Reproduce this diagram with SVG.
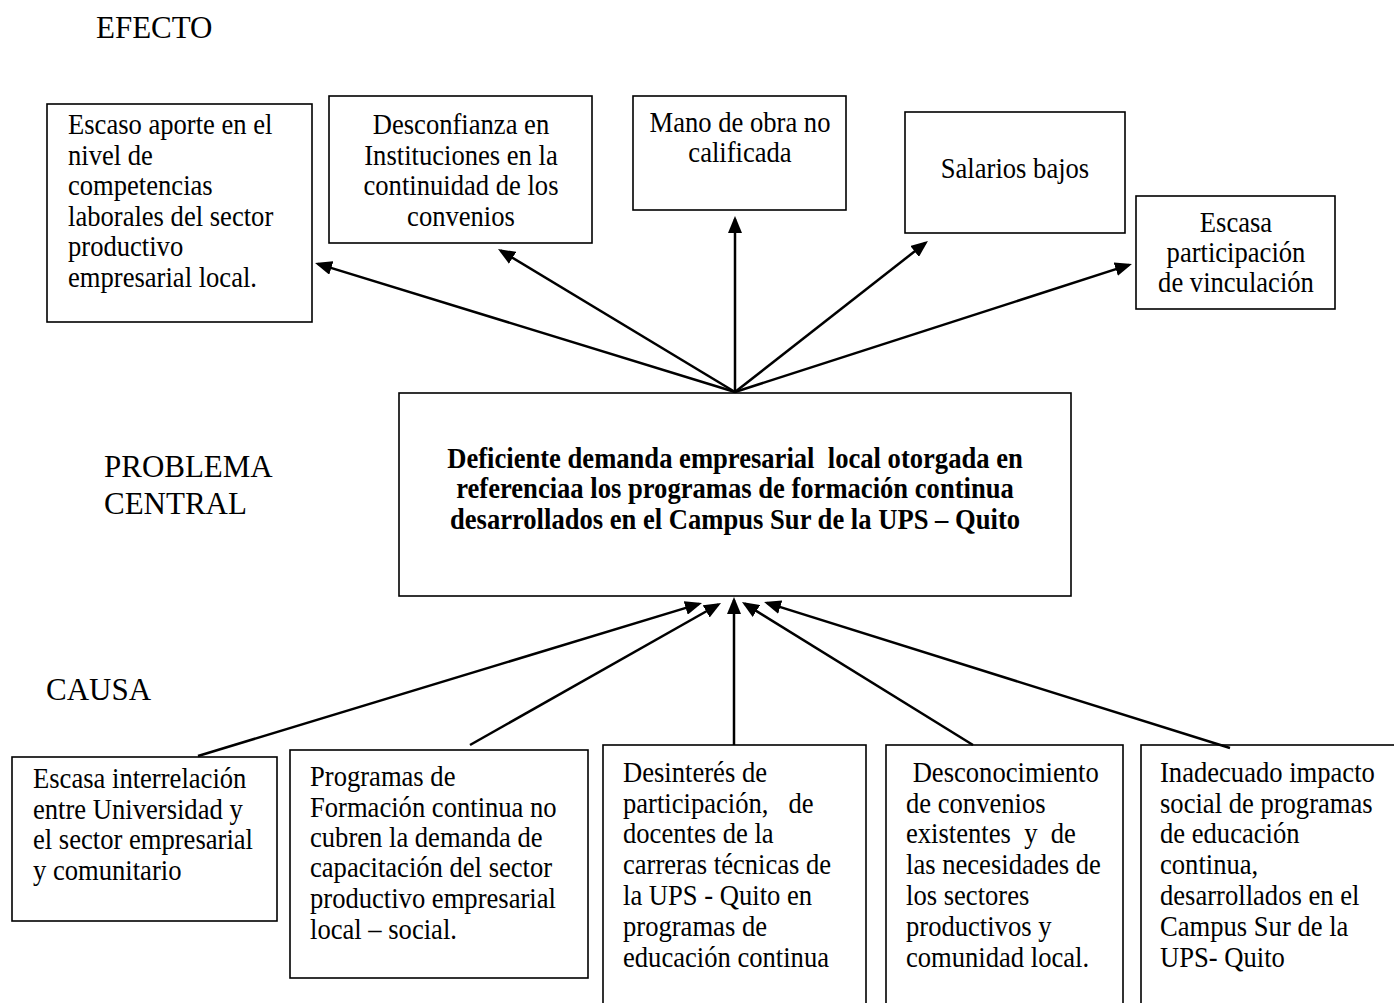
<svg xmlns="http://www.w3.org/2000/svg" width="1394" height="1003" viewBox="0 0 1394 1003">
<style>
text{font-family:"Liberation Serif","Times New Roman",serif;fill:#000;white-space:pre}
.h{font-size:31px}
.b{font-size:26.6px}
.c{text-anchor:middle}
.bold{font-weight:bold}
rect{fill:#fff;stroke:#000;stroke-width:1.6}
.conn line{stroke:#000;stroke-width:2.5;marker-end:url(#ah)}
</style>
<defs>
<marker id="ah" markerUnits="userSpaceOnUse" markerWidth="18" markerHeight="14" refX="14" refY="7" orient="auto" viewBox="0 0 18 14">
<path d="M0,0 L17,7 L0,14 z" fill="#000"/>
</marker>
</defs>
<rect width="1394" height="1003" style="fill:#fff;stroke:none"/>
<g id="labels">
<text class="h" x="96" y="38" transform="matrix(1 0 0 1.05 0 -1.9)">EFECTO</text>
<text class="h" x="104" y="477" transform="matrix(1 0 0 1.05 0 -23.85)">PROBLEMA</text>
<text class="h" x="104" y="514" transform="matrix(1 0 0 1.05 0 -25.7)">CENTRAL</text>
<text class="h" x="46" y="700" transform="matrix(1 0 0 1.05 0 -35)">CAUSA</text>
</g>
<g id="e1">
<rect x="47" y="104" width="265" height="218"/>
<text class="b" x="68" y="134" transform="matrix(1 0 0 1.1 0 -13.4)">Escaso aporte en el</text>
<text class="b" x="68" y="165" transform="matrix(1 0 0 1.1 0 -16.5)">nivel de</text>
<text class="b" x="68" y="195" transform="matrix(1 0 0 1.1 0 -19.5)">competencias</text>
<text class="b" x="68" y="226" transform="matrix(1 0 0 1.1 0 -22.6)">laborales del sector</text>
<text class="b" x="68" y="256" transform="matrix(1 0 0 1.1 0 -25.6)">productivo</text>
<text class="b" x="68" y="287" transform="matrix(1 0 0 1.1 0 -28.7)">empresarial local.</text>
</g>
<g id="e2">
<rect x="329" y="96" width="263" height="147"/>
<text class="b c" x="461" y="134" transform="matrix(1 0 0 1.1 0 -13.4)">Desconfianza en</text>
<text class="b c" x="461" y="165" transform="matrix(1 0 0 1.1 0 -16.5)">Instituciones en la</text>
<text class="b c" x="461" y="195" transform="matrix(1 0 0 1.1 0 -19.5)">continuidad de los</text>
<text class="b c" x="461" y="226" transform="matrix(1 0 0 1.1 0 -22.6)">convenios</text>
</g>
<g id="e3">
<rect x="633" y="96" width="213" height="114"/>
<text class="b c" x="740" y="132" transform="matrix(1 0 0 1.1 0 -13.2)">Mano de obra no</text>
<text class="b c" x="740" y="162" transform="matrix(1 0 0 1.1 0 -16.2)">calificada</text>
</g>
<g id="e4">
<rect x="905" y="112" width="220" height="121"/>
<text class="b c" x="1015" y="178" transform="matrix(1 0 0 1.1 0 -17.8)">Salarios bajos</text>
</g>
<g id="e5">
<rect x="1136" y="196" width="199" height="113"/>
<text class="b c" x="1236" y="232" transform="matrix(1 0 0 1.1 0 -23.2)">Escasa</text>
<text class="b c" x="1236" y="262" transform="matrix(1 0 0 1.1 0 -26.2)">participación</text>
<text class="b c" x="1236" y="292" transform="matrix(1 0 0 1.1 0 -29.2)">de vinculación</text>
</g>
<g id="central">
<rect x="399" y="393" width="672" height="203"/>
<text class="b c bold" x="735" y="468" transform="matrix(1 0 0 1.1 0 -46.8)">Deficiente demanda empresarial  local otorgada en</text>
<text class="b c bold" x="735" y="498" transform="matrix(1 0 0 1.1 0 -49.8)">referenciaa los programas de formación continua</text>
<text class="b c bold" x="735" y="529" transform="matrix(1 0 0 1.1 0 -52.9)">desarrollados en el Campus Sur de la UPS – Quito</text>
</g>
<g id="c1">
<rect x="12" y="757" width="265" height="164"/>
<text class="b" x="33" y="788" transform="matrix(1 0 0 1.1 0 -78.8)">Escasa interrelación</text>
<text class="b" x="33" y="819" transform="matrix(1 0 0 1.1 0 -81.9)">entre Universidad y</text>
<text class="b" x="33" y="849" transform="matrix(1 0 0 1.1 0 -84.9)">el sector empresarial</text>
<text class="b" x="33" y="880" transform="matrix(1 0 0 1.1 0 -88)">y comunitario</text>
</g>
<g id="c2">
<rect x="290" y="750" width="298" height="228"/>
<text class="b" x="310" y="786" transform="matrix(1 0 0 1.1 0 -78.6)">Programas de</text>
<text class="b" x="310" y="817" transform="matrix(1 0 0 1.1 0 -81.7)">Formación continua no</text>
<text class="b" x="310" y="847" transform="matrix(1 0 0 1.1 0 -84.7)">cubren la demanda de</text>
<text class="b" x="310" y="877" transform="matrix(1 0 0 1.1 0 -87.7)">capacitación del sector</text>
<text class="b" x="310" y="908" transform="matrix(1 0 0 1.1 0 -90.8)">productivo empresarial</text>
<text class="b" x="310" y="939" transform="matrix(1 0 0 1.1 0 -93.9)">local – social.</text>
</g>
<g id="c3">
<rect x="603" y="745" width="263" height="270"/>
<text class="b" x="623" y="782" transform="matrix(1 0 0 1.1 0 -78.2)">Desinterés de</text>
<text class="b" x="623" y="813" transform="matrix(1 0 0 1.1 0 -81.3)">participación,   de</text>
<text class="b" x="623" y="843" transform="matrix(1 0 0 1.1 0 -84.3)">docentes de la</text>
<text class="b" x="623" y="874" transform="matrix(1 0 0 1.1 0 -87.4)">carreras técnicas de</text>
<text class="b" x="623" y="905" transform="matrix(1 0 0 1.1 0 -90.5)">la UPS - Quito en</text>
<text class="b" x="623" y="936" transform="matrix(1 0 0 1.1 0 -93.6)">programas de</text>
<text class="b" x="623" y="967" transform="matrix(1 0 0 1.1 0 -96.7)">educación continua</text>
</g>
<g id="c4">
<rect x="886" y="745" width="237" height="270"/>
<text class="b" x="906" y="782" transform="matrix(1 0 0 1.1 0 -78.2)"> Desconocimiento</text>
<text class="b" x="906" y="813" transform="matrix(1 0 0 1.1 0 -81.3)">de convenios</text>
<text class="b" x="906" y="843" transform="matrix(1 0 0 1.1 0 -84.3)">existentes  y  de</text>
<text class="b" x="906" y="874" transform="matrix(1 0 0 1.1 0 -87.4)">las necesidades de</text>
<text class="b" x="906" y="905" transform="matrix(1 0 0 1.1 0 -90.5)">los sectores</text>
<text class="b" x="906" y="936" transform="matrix(1 0 0 1.1 0 -93.6)">productivos y</text>
<text class="b" x="906" y="967" transform="matrix(1 0 0 1.1 0 -96.7)">comunidad local.</text>
</g>
<g id="c5">
<rect x="1141" y="745" width="270" height="270"/>
<text class="b" x="1160" y="782" transform="matrix(1 0 0 1.1 0 -78.2)">Inadecuado impacto</text>
<text class="b" x="1160" y="813" transform="matrix(1 0 0 1.1 0 -81.3)">social de programas</text>
<text class="b" x="1160" y="843" transform="matrix(1 0 0 1.1 0 -84.3)">de educación</text>
<text class="b" x="1160" y="874" transform="matrix(1 0 0 1.1 0 -87.4)">continua,</text>
<text class="b" x="1160" y="905" transform="matrix(1 0 0 1.1 0 -90.5)">desarrollados en el</text>
<text class="b" x="1160" y="936" transform="matrix(1 0 0 1.1 0 -93.6)">Campus Sur de la</text>
<text class="b" x="1160" y="967" transform="matrix(1 0 0 1.1 0 -96.7)">UPS- Quito</text>
</g>
<g id="connectors" class="conn">
<line x1="735" y1="392" x2="317.9" y2="263.9"/>
<line x1="735" y1="392" x2="500.6" y2="250.6"/>
<line x1="735" y1="392" x2="735" y2="219"/>
<line x1="735" y1="392" x2="925.6" y2="242.8"/>
<line x1="735" y1="392" x2="1129.1" y2="264.9"/>
<line x1="198" y1="756" x2="699.1" y2="603.9"/>
<line x1="470" y1="745" x2="718.4" y2="604.5"/>
<line x1="734" y1="745" x2="734" y2="600"/>
<line x1="973" y1="745" x2="744.5" y2="603.6"/>
<line x1="1230" y1="748" x2="766.9" y2="602.9"/>
</g>
</svg>
